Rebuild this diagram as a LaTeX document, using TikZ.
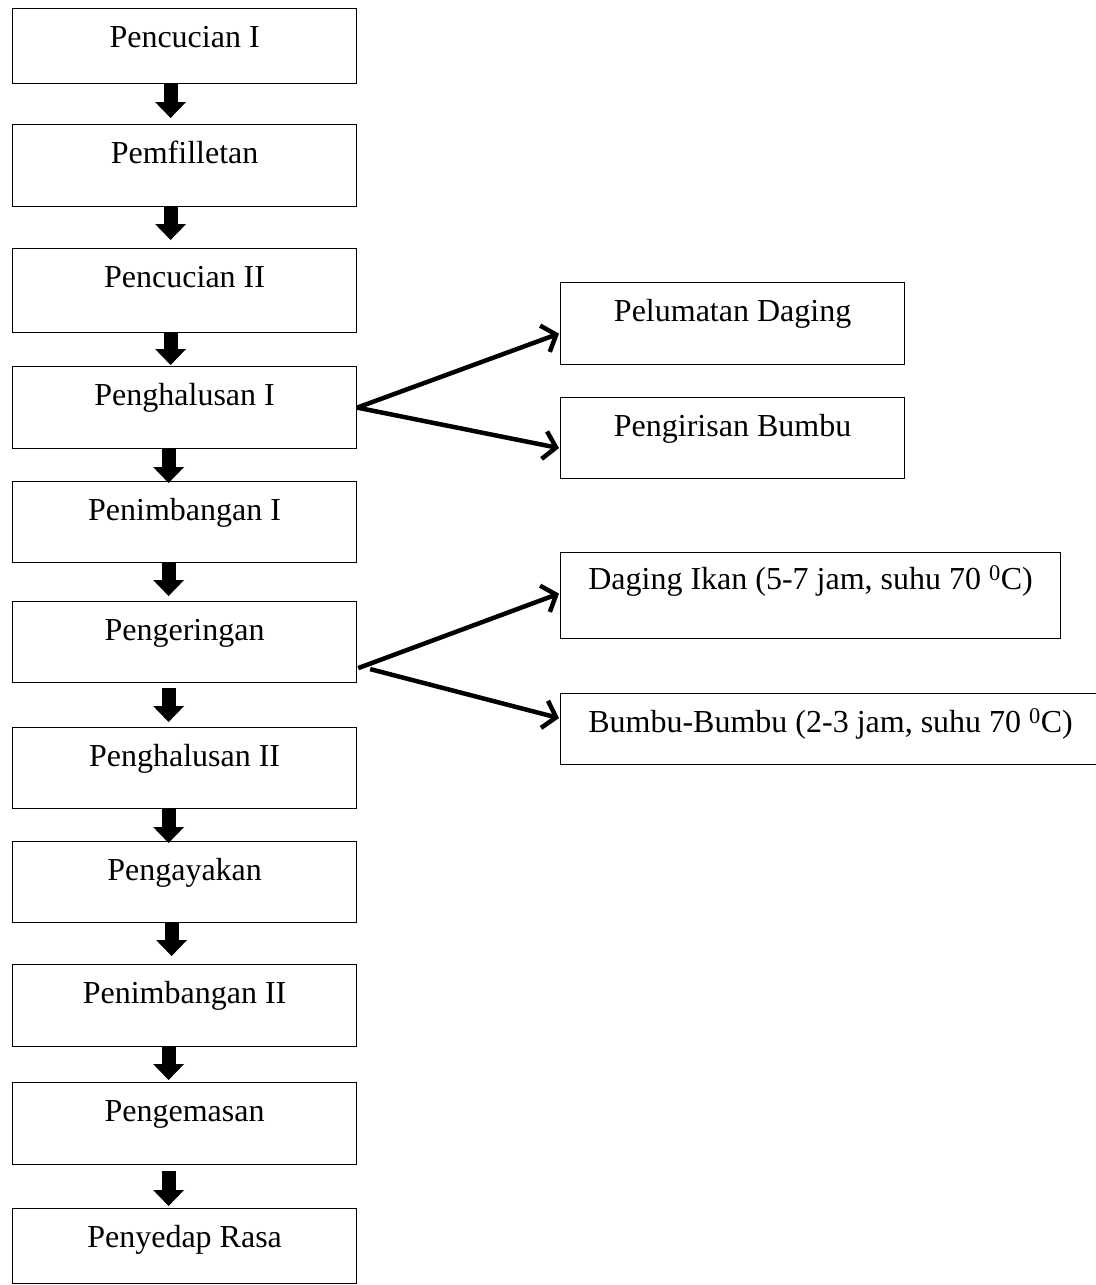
\documentclass[tikz,border=0pt]{standalone}
\usepackage{fontspec}
\setmainfont{Liberation Serif}
\usetikzlibrary{arrows.meta,calc}
\newcommand{\boxfont}{\fontsize{32}{38}\selectfont}
\tikzset{
  stepbox/.style={draw, line width=1.2pt, inner sep=0pt, anchor=north west,
    minimum width=344pt, text height=39pt, font=\boxfont},
  fat/.style={line width=14pt, -{Triangle[width=31pt,length=16pt,line width=0pt]}},
  side/.style={line width=4.5pt, -{Straight Barb[length=12pt,width=28pt]}}
}
\begin{document}
\begin{tikzpicture}[x=1pt,y=-1pt]
\useasboundingbox (0,0) rectangle (1095,1285);
% main column
\node[stepbox, text depth=36pt] (n1) at (12,8) {Pencucian I};
\node[stepbox, text depth=43pt] (n2) at (12,124) {Pemfilletan};
\node[stepbox, text depth=45pt] (n3) at (12,248) {Pencucian II};
\node[stepbox, text depth=43pt] (n4) at (12,366) {Penghalusan I};
\node[stepbox, text depth=42pt] (n5) at (12,481) {Penimbangan I};
\node[stepbox, text depth=42pt] (n6) at (12,601) {Pengeringan};
\node[stepbox, text depth=42pt] (n7) at (12,727) {Penghalusan II};
\node[stepbox, text depth=42pt] (n8) at (12,841) {Pengayakan};
\node[stepbox, text depth=43pt] (n9) at (12,964) {Penimbangan II};
\node[stepbox, text depth=43pt] (n10) at (12,1082) {Pengemasan};
\node[stepbox, text depth=36pt] (n11) at (12,1208) {Penyedap Rasa};
% side boxes
\node[stepbox, text depth=43pt] (pel) at (560,282) {Pelumatan Daging};
\node[stepbox, text depth=42pt] (iris) at (560,397) {Pengirisan Bumbu};
\node[stepbox, minimum width=500pt, text height=37pt, text depth=49pt] (ikan) at (560,552) {Daging Ikan (5-7 jam, suhu 70 \textsuperscript{0}C)};
\node[stepbox, minimum width=540pt, text depth=32pt] (bumbu) at (560,693) {Bumbu-Bumbu (2-3 jam, suhu 70 \textsuperscript{0}C)};
% fat arrows
\draw[fat, shorten >=6pt] ([xshift=-14pt]n1.south) -- ([xshift=-14pt]n2.north);
\draw[fat, shorten >=8pt] ([xshift=-14pt]n2.south) -- ([xshift=-14pt]n3.north);
\draw[fat, shorten >=1pt] ([xshift=-14pt]n3.south) -- ([xshift=-14pt]n4.north);
\draw[fat, shorten >=-2pt] ([xshift=-16pt]n4.south) -- ([xshift=-16pt]n5.north);
\draw[fat, shorten >=5pt] ([xshift=-16pt]n5.south) -- ([xshift=-16pt]n6.north);
\draw[fat, shorten <=5pt, shorten >=5pt] ([xshift=-16pt]n6.south) -- ([xshift=-16pt]n7.north);
\draw[fat, shorten >=-2pt] ([xshift=-16pt]n7.south) -- ([xshift=-16pt]n8.north);
\draw[fat, shorten >=8pt] ([xshift=-13pt]n8.south) -- ([xshift=-13pt]n9.north);
\draw[fat, shorten >=2pt] ([xshift=-16pt]n9.south) -- ([xshift=-16pt]n10.north);
\draw[fat, shorten <=6pt, shorten >=2pt] ([xshift=-16pt]n10.south) -- ([xshift=-16pt]n11.north);
% side arrows
\draw[side] (n4.east) -- ($(pel.west)+(-1,10)$);
\draw[side] (n4.east) -- ($(iris.west)+(-1,10)$);
\draw[side] ($(n6.east)+(1,26)$) -- ($(ikan.west)+(-1,-2)$);
\draw[side] ($(n6.east)+(13,27)$) -- ($(bumbu.west)+(-1,-11)$);
\end{tikzpicture}
\end{document}
